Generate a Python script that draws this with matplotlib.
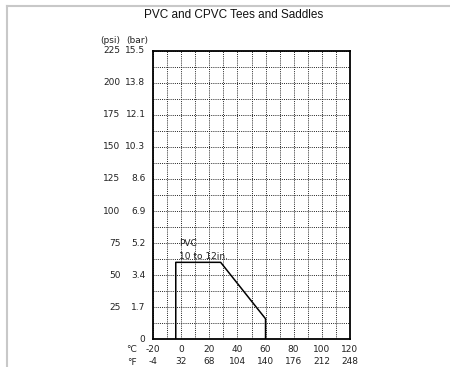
import matplotlib.pyplot as plt
from matplotlib.lines import Line2D
from matplotlib.transforms import blended_transform_factory
import numpy as np

# PVC 10 to 12in. pressure / temperature curve
temp_c = [-4, -4, 28, 60, 60]
pressure_psi = [0, 60, 60, 16, 0]

# axis labels
psi_ticks = [25, 50, 75, 100, 125, 150, 175, 200, 225]
bar_labels = ['1.7', '3.4', '5.2', '6.9', '8.6', '10.3', '12.1', '13.8', '15.5']
c_ticks = [-20, 0, 20, 40, 60, 80, 100, 120]
f_labels = ['-4', '32', '68', '104', '140', '176', '212', '248']

fig = plt.figure(figsize=(4.5, 3.67), dpi=100)
ax = fig.add_axes([0.3407, 0.0755, 0.4364, 0.7864])

ax.plot(temp_c, pressure_psi, color='black', lw=1.1)

ax.set_xlim(-20, 120)
ax.set_ylim(0, 225)
ax.set_xticks(c_ticks)
ax.set_xticks(np.arange(-10, 120, 20), minor=True)
ax.set_xticklabels([f"{c}\n{f}" for c, f in zip(c_ticks, f_labels)],
                   fontsize=6.5, color='#222222', linespacing=1.5)
ax.set_yticks(np.arange(0, 226, 12.5))
ax.set_yticklabels([])
ax.tick_params(which='both', length=0, pad=4)
ax.grid(which='both', color='#222222', linestyle=(0, (1, 1.2)), lw=0.7)

for s in ax.spines.values():
    s.set_linewidth(1.3)
    s.set_color('black')

# psi / bar labels on the left
tr = blended_transform_factory(ax.transAxes, ax.transData)
for p, b in zip(psi_ticks, bar_labels):
    ax.text(-0.168, p, str(p), transform=tr, ha='right', va='center',
            fontsize=6.5, color='#222222')
    ax.text(-0.04, p, b, transform=tr, ha='right', va='center',
            fontsize=6.5, color='#222222')
ax.text(-0.04, 0, '0', transform=tr, ha='right', va='center',
        fontsize=6.5, color='#222222')
ax.text(-0.168, 1.035, '(psi)', transform=ax.transAxes, ha='right',
        va='center', fontsize=6.5, color='#222222')
ax.text(-0.028, 1.035, '(bar)', transform=ax.transAxes, ha='right',
        va='center', fontsize=6.5, color='#222222')
ax.text(-0.11, -0.034, '°C', transform=ax.transAxes, ha='center',
        va='center', fontsize=6.5, color='#222222')
ax.text(-0.11, -0.08, '°F', transform=ax.transAxes, ha='center',
        va='center', fontsize=6.5, color='#222222')

ax.text(-1.8, 74.5, 'PVC', fontsize=6.5, ha='left', va='center', color='#222222')
ax.text(-1.8, 64.5, '10 to 12in.', fontsize=6.5, ha='left', va='center',
        color='#222222')

fig.text(233.5 / 450, 1 - 15 / 367, 'PVC and CPVC Tees and Saddles',
         ha='center', va='center', fontsize=8.5, color='#111111',
         family='Liberation Sans')

# grey frame
fig.add_artist(Line2D([7 / 450, 7 / 450], [0, 1 - 6 / 367],
                      transform=fig.transFigure, color='#c8c8c8', lw=1.5))
fig.add_artist(Line2D([7 / 450, 1], [1 - 6 / 367, 1 - 6 / 367],
                      transform=fig.transFigure, color='#c8c8c8', lw=1.5))

fig.savefig('out.png', dpi=100)
